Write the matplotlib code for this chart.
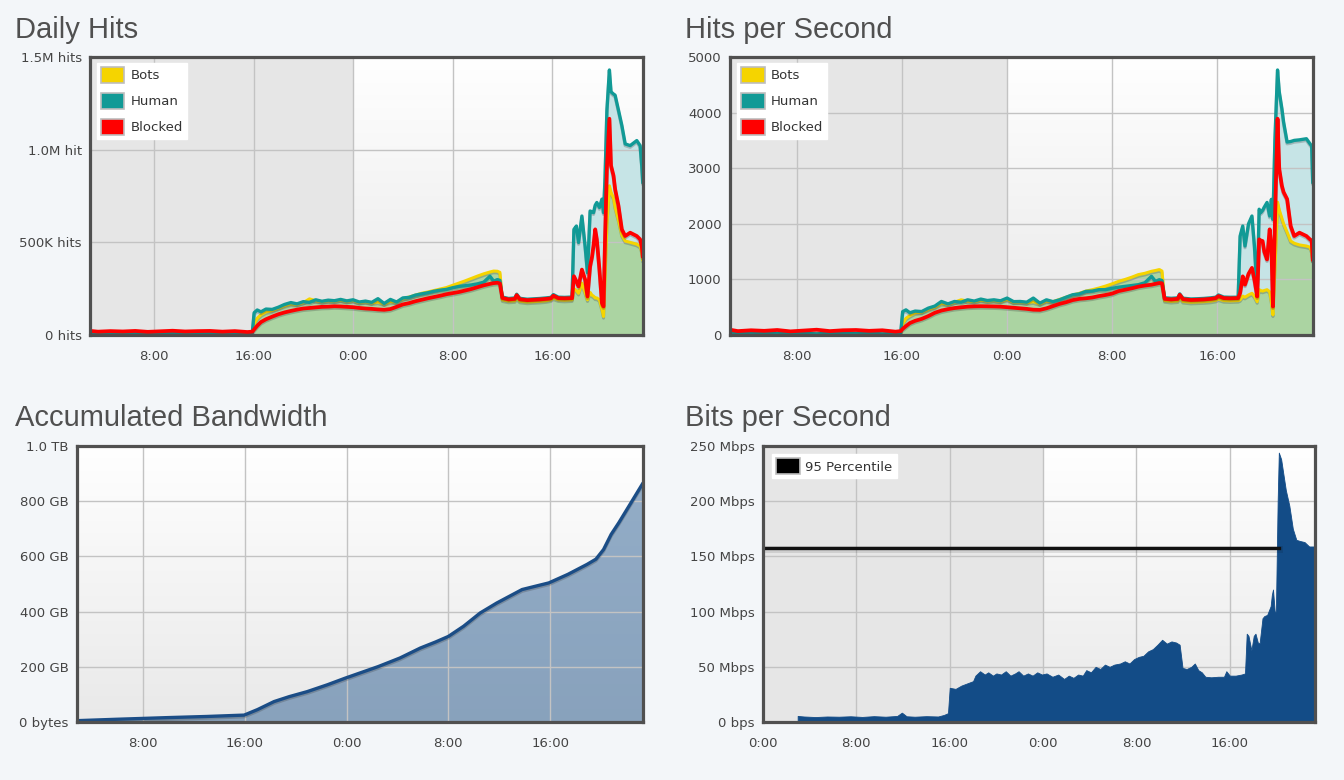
import numpy as np
import matplotlib
matplotlib.use("Agg")
import matplotlib.pyplot as plt
from matplotlib.patches import Patch
from matplotlib.colors import LinearSegmentedColormap
import matplotlib.patheffects as pe

# ---------------- data ----------------
# time in hours from 0:00 of day 1
t_hits = [2.9, 3.5, 4.5, 5.5, 6.5, 7.5, 8.5, 9.5, 10.5, 11.5, 12.5, 13.5, 14.5, 15.5, 15.9,
          16.05, 16.3, 16.6, 17.0, 17.5, 18.0, 18.5, 19.0, 19.5, 20.0, 20.5, 21.0, 21.5, 22.0, 22.5,
          23.0, 23.5, 24.0, 24.5, 25.0, 25.5, 26.0, 26.5, 27.0, 27.5, 28.0, 28.5, 29.0, 29.5, 30.0,
          30.5, 31.0, 31.5, 32.0, 32.5, 33.0, 33.5, 34.0, 34.5, 35.0, 35.3, 35.6, 35.8,
          36.0, 36.5, 37.0, 37.15, 37.4, 38.0, 38.5, 39.0, 39.5, 39.9, 40.1, 40.5, 41.0, 41.6,
          41.75, 41.95, 42.12, 42.39, 42.65, 42.84, 43.05, 43.2, 43.32, 43.46, 43.59, 43.8, 44.0, 44.13,
          44.25, 44.4, 44.6, 44.73, 44.93, 45.06, 45.33, 45.6, 45.87, 46.27, 46.8, 47.07, 47.2, 47.28]

# Daily hits (thousands)
daily_blocked = [22, 18, 21, 19, 22, 17, 20, 23, 19, 21, 22, 18, 21, 16, 18,
                 30, 50, 70, 85, 99, 112, 122, 130, 137, 143, 146, 149, 152, 153, 155,
                 154, 152, 150, 146, 143, 141, 138, 136, 140, 152, 165, 172, 182, 190, 198,
                 205, 212, 220, 226, 232, 240, 248, 258, 268, 276, 280, 282, 278,
                 200, 192, 195, 215, 193, 188, 190, 192, 195, 198, 212, 199, 198, 199,
                 317, 290, 262, 353, 299, 208, 371, 420, 480, 570, 516, 353, 172, 154,
                 520, 900, 1167, 914, 860, 787, 697, 570, 534, 552, 534, 516, 480, 425]
daily_human = [10, 8, 9, 11, 8, 10, 9, 7, 10, 9, 8, 10, 7, 9, 10,
               120, 135, 125, 140, 138, 150, 165, 175, 168, 180, 176, 190, 182, 188, 185,
               192, 184, 190, 178, 183, 176, 196, 170, 192, 178, 200, 203, 215, 222, 228,
               236, 242, 246, 255, 262, 266, 270, 276, 285, 317, 290, 299, 295,
               205, 197, 200, 220, 198, 193, 195, 197, 200, 203, 218, 204, 203, 205,
               570, 588, 499, 642, 479, 336, 669, 665, 660, 700, 715, 688, 733, 660,
               850, 1213, 1430, 1312, 1300, 1294, 1213, 1131, 1031, 1022, 1049, 1022, 914, 825]
daily_bots = [5, 4, 5, 6, 4, 5, 5, 4, 6, 5, 4, 5, 4, 5, 5,
              60, 90, 110, 125, 132, 145, 158, 168, 165, 175, 195, 185, 180, 185, 183,
              188, 182, 186, 175, 180, 173, 178, 168, 180, 178, 195, 205, 215, 225, 232,
              240, 248, 256, 268, 280, 292, 305, 318, 330, 340, 345, 344, 338,
              190, 183, 185, 200, 183, 178, 180, 182, 185, 190, 200, 190, 188, 190,
              250, 240, 225, 280, 230, 190, 230, 215, 210, 200, 200, 190, 140, 100,
              320, 600, 805, 770, 740, 690, 620, 540, 507, 500, 490, 479, 450, 407]

# Hits per second
hps_blocked = [95, 70, 85, 75, 90, 65, 80, 95, 70, 85, 90, 75, 85, 60, 70,
               110, 160, 215, 255, 290, 340, 400, 440, 465, 485, 498, 510, 515, 518, 516,
               514, 510, 500, 490, 480, 470, 455, 452, 480, 520, 560, 590, 628, 650, 660,
               675, 700, 720, 745, 790, 815, 840, 870, 890, 905, 920, 935, 930,
               650, 640, 650, 724, 645, 630, 634, 640, 650, 664, 700, 664, 660, 664,
               755, 1055, 905, 1100, 1207, 995, 693, 1720, 1700, 1690, 1500, 1358, 1900, 1600,
               512, 2000, 3890, 2987, 2684, 2570, 2444, 1960, 1780, 1840, 1780, 1720, 1700, 1358]
hps_human = [35, 25, 30, 40, 25, 35, 30, 20, 35, 30, 25, 35, 20, 30, 40,
             420, 452, 400, 430, 422, 483, 520, 603, 560, 603, 590, 633, 610, 646, 620,
             633, 615, 664, 600, 603, 590, 664, 573, 633, 600, 633, 680, 724, 740, 784,
             790, 815, 815, 840, 860, 875, 890, 905, 940, 1055, 965, 995, 980,
             670, 660, 668, 740, 662, 648, 652, 658, 668, 680, 720, 682, 678, 680,
             1780, 1960, 1600, 2000, 2140, 1600, 755, 2262, 2200, 2240, 2300, 2384, 2140, 2440,
             2080, 3500, 4766, 4375, 4073, 3832, 3470, 3480, 3500, 3510, 3530, 3440, 3400, 2750]
hps_bots = [15, 12, 15, 18, 12, 15, 14, 12, 18, 15, 12, 15, 12, 15, 15,
            200, 300, 350, 400, 410, 460, 500, 570, 550, 590, 633, 610, 600, 625, 610,
            620, 605, 640, 590, 595, 580, 600, 560, 610, 600, 640, 680, 720, 750, 790,
            815, 845, 880, 920, 965, 1000, 1040, 1086, 1110, 1146, 1160, 1177, 1150,
            620, 605, 615, 680, 605, 590, 595, 600, 610, 625, 650, 620, 615, 620,
            634, 700, 680, 720, 750, 700, 600, 815, 800, 790, 800, 815, 780, 600,
            362, 1200, 2390, 2250, 2100, 2000, 1850, 1690, 1650, 1620, 1600, 1580, 1500, 1358]

# Accumulated bandwidth (GB)
t_acc = [2.9, 6.0, 10.0, 13.0, 15.95, 17.0, 18.3, 19.5, 20.9, 22.5,
         23.9, 25.2, 26.5, 28.2, 29.8, 31.0, 32.0, 33.2, 34.5, 35.8,
         37.8, 39.9, 41.4, 42.9, 43.6, 44.2, 44.8, 45.4, 46.3, 47.25]
acc_gb = [5, 10, 16, 20, 25, 45, 74, 92, 110, 135,
          159, 180, 201, 232, 268, 290, 310, 347, 395, 431,
          480, 504, 535, 571, 590, 625, 680, 722, 790, 862]

# Bits per second (Mbps)
t_bps = [2.97, 3.5, 4.5, 5.5, 6.5, 7.5, 8.5, 9.5, 10.5, 11.5,
         11.9, 12.3, 13.0, 14.0, 15.0, 15.5, 15.85, 16.0, 16.5, 17.0,
         17.5, 18.0, 18.2, 18.6, 19.0, 19.3, 19.7, 20.0, 20.4, 20.8,
         21.2, 21.6, 21.9, 22.3, 22.7, 23.1, 23.5, 23.9, 24.3, 24.8,
         25.3, 25.8, 26.2, 26.6, 27.0, 27.4, 27.7, 28.1, 28.5, 28.9,
         29.3, 29.7, 30.1, 30.6, 31.0, 31.4, 31.8, 32.2, 32.6, 33.0,
         33.4, 33.8, 34.2, 34.6, 35.0, 35.4, 35.7, 35.95, 36.3, 36.7,
         37.0, 37.3, 37.6, 37.9, 38.4, 39.0, 39.5, 39.7, 40.0, 40.5,
         41.0, 41.3, 41.45, 41.6, 41.85, 42.05, 42.2, 42.4, 42.55, 42.8,
         42.96, 43.2, 43.5, 43.6, 43.7, 43.85, 43.95, 44.1, 44.2, 44.4,
         44.57, 44.8, 45.1, 45.4, 45.7, 46.0, 46.4, 46.8, 47.2, 47.25,
         47.3]
bps_mbps = [5.5, 5.0, 4.5, 5.0, 4.8, 5.2, 4.6, 5.3, 4.8, 5.5,
            8.5, 5.2, 4.8, 5.3, 5.0, 6.4, 8.0, 31, 30, 33,
            35, 37, 42, 46, 43, 45, 42, 44, 43, 46,
            42, 44, 46, 42, 44, 42, 45, 43, 44, 41,
            43, 39, 42, 40, 43, 42, 47, 45, 50, 48,
            52, 50, 52, 53, 55, 53, 57, 59, 60, 64,
            66, 70, 74.5, 71, 73, 72, 70, 49, 48, 50,
            53, 47, 45, 41, 40.5, 41, 41, 46, 42, 42,
            43, 44, 80, 78, 65, 78, 80, 72, 71, 94,
            96, 97, 105, 115, 120, 100, 100, 200, 244, 238,
            226, 210, 196, 175, 165, 164, 163, 159, 159, 160,
            129]
p95_value = 158
p95_end = 44.2

# ticks / labels
x_ticks_top = [8, 16, 24, 32, 40]
x_labels_top = ["8:00", "16:00", "0:00", "8:00", "16:00"]
x_ticks_bps = [0, 8, 16, 24, 32, 40]
x_labels_bps = ["0:00", "8:00", "16:00", "0:00", "8:00", "16:00"]
y_ticks_daily = [0, 500, 1000, 1500]
y_labels_daily = ["0 hits", "500K hits", "1.0M hit", "1.5M hits"]
y_ticks_hps = [0, 1000, 2000, 3000, 4000, 5000]
y_labels_hps = ["0", "1000", "2000", "3000", "4000", "5000"]
y_ticks_acc = [0, 200, 400, 600, 800, 1000]
y_labels_acc = ["0 bytes", "200 GB", "400 GB", "600 GB", "800 GB", "1.0 TB"]
y_ticks_bps = [0, 50, 100, 150, 200, 250]
y_labels_bps = ["0 bps", "50 Mbps", "100 Mbps", "150 Mbps", "200 Mbps", "250 Mbps"]
series_names = ["Bots", "Human", "Blocked"]

# ---------------- style ----------------
BG = "#f3f6f9"
C_BOTS = "#f5d400"
C_HUMAN = "#119a96"
C_BLOCK = "#ff0000"
C_GREEN = "#abd4a2"
C_TEALFILL = "#c6e4e6"
C_NAVY = "#134c87"

fig = plt.figure(figsize=(13.44, 7.8), dpi=100, facecolor=BG)
W, H = 1344.0, 780.0


def add_ax(x0, y0, x1, y1):
    return fig.add_axes([x0 / W, 1 - y1 / H, (x1 - x0) / W, (y1 - y0) / H])


grad_cmap = LinearSegmentedColormap.from_list("g", ["#ffffff", "#e9e9e9"])


def setup(ax, xlim, ylim, xt, xl, yt, yl, shade_end=None):
    grad = np.linspace(0, 1, 256).reshape(-1, 1)
    ax.imshow(grad, cmap=grad_cmap, extent=(0, 1, 0, 1), transform=ax.transAxes,
              aspect="auto", zorder=0)
    if shade_end is not None:
        ax.axvspan(xlim[0], shade_end, color="#e6e6e6", lw=0, zorder=0.5)
    ax.set_xlim(xlim)
    ax.set_ylim(ylim)
    ax.set_xticks(xt, xl)
    ax.set_yticks(yt, yl)
    ax.grid(True, color="#c3c3c3", lw=1)
    ax.xaxis.set_zorder(1.5)
    ax.yaxis.set_zorder(1.5)
    ax.tick_params(axis="both", length=0, colors="#444444", labelsize=9.5)
    ax.tick_params(axis="x", pad=11)
    ax.tick_params(axis="y", pad=6)
    for s in ax.spines.values():
        s.set_color("#505050")
        s.set_linewidth(2.3)
        s.set_zorder(5)


def title(x, y, text):
    fig.text(x / W, 1 - y / H, text, fontsize=21, color="#505050",
             family="Liberation Sans", va="baseline", ha="left")


shadow = [pe.SimpleLineShadow(offset=(0, -1.2), alpha=0.25, shadow_color="#333333"), pe.Normal()]


def make_legend(ax, handles, labels, anchor):
    leg = ax.legend(handles, labels, loc="upper left", bbox_to_anchor=anchor,
                    borderaxespad=0, fontsize=9.5, frameon=True, fancybox=False,
                    handlelength=1.8, handleheight=1.5, handletextpad=0.45,
                    labelspacing=0.75, borderpad=0.3)
    fr = leg.get_frame()
    fr.set_facecolor("white")
    fr.set_edgecolor("white")
    fr.set_alpha(1)
    leg.set_zorder(6)
    for tx in leg.get_texts():
        tx.set_color("#333333")
    return leg


def hits_chart(ax, t, bots, human, blocked):
    ax.fill_between(t, 0, human, color=C_TEALFILL, lw=0, zorder=1)
    ax.fill_between(t, 0, bots, color=C_GREEN, lw=0, zorder=1.1)
    ax.plot(t, bots, color=C_BOTS, lw=2.2, zorder=3, path_effects=shadow)
    ax.plot(t, human, color=C_HUMAN, lw=2.4, zorder=3.1, path_effects=shadow)
    ax.plot(t, blocked, color=C_BLOCK, lw=2.7, zorder=3.2, path_effects=shadow)
    handles = [Patch(facecolor=c, edgecolor="#bdbdbd", lw=1.2) for c in (C_BOTS, C_HUMAN, C_BLOCK)]
    make_legend(ax, handles, series_names, (0.012, 0.978))


# ---- Daily Hits ----
title(15, 38, "Daily Hits")
ax1 = add_ax(90, 57, 643, 335)
setup(ax1, (2.86, 47.3), (0, 1500), x_ticks_top, x_labels_top, y_ticks_daily, y_labels_daily, shade_end=24)
hits_chart(ax1, t_hits, daily_bots, daily_human, daily_blocked)

# ---- Hits per Second ----
title(685, 38, "Hits per Second")
ax2 = add_ax(730, 57, 1313, 335)
setup(ax2, (2.9, 47.3), (0, 5000), x_ticks_top, x_labels_top, y_ticks_hps, y_labels_hps, shade_end=24)
hits_chart(ax2, t_hits, hps_bots, hps_human, hps_blocked)

# ---- Accumulated Bandwidth ----
title(15, 426, "Accumulated Bandwidth")
ax3 = add_ax(77, 446, 643, 722)
setup(ax3, (2.81, 47.3), (0, 1000), x_ticks_top, x_labels_top, y_ticks_acc, y_labels_acc)
ax3.fill_between(t_acc, 0, acc_gb, color=C_NAVY, alpha=0.45, lw=0, zorder=1)
ax3.plot(t_acc, acc_gb, color="#1b4d86", lw=2.4, zorder=3, path_effects=shadow)

# ---- Bits per Second ----
title(685, 426, "Bits per Second")
ax4 = add_ax(763, 446, 1315, 722)
setup(ax4, (0, 47.3), (0, 250), x_ticks_bps, x_labels_bps, y_ticks_bps, y_labels_bps, shade_end=24)
ax4.fill_between(t_bps, 0, bps_mbps, color=C_NAVY, lw=0.6, edgecolor=C_NAVY, zorder=2)
ax4.plot([0, p95_end], [p95_value - 1.5, p95_value - 1.5], color="#000000", lw=5, alpha=0.10, zorder=2.9)
ax4.plot([0, p95_end], [p95_value, p95_value], color="#111111", lw=2.4, zorder=3)
h95 = [Patch(facecolor="#000000", edgecolor="#bdbdbd", lw=1.2)]
make_legend(ax4, h95, ["95 Percentile"], (0.016, 0.97))

fig.savefig("out.png", dpi=100, facecolor=BG)
